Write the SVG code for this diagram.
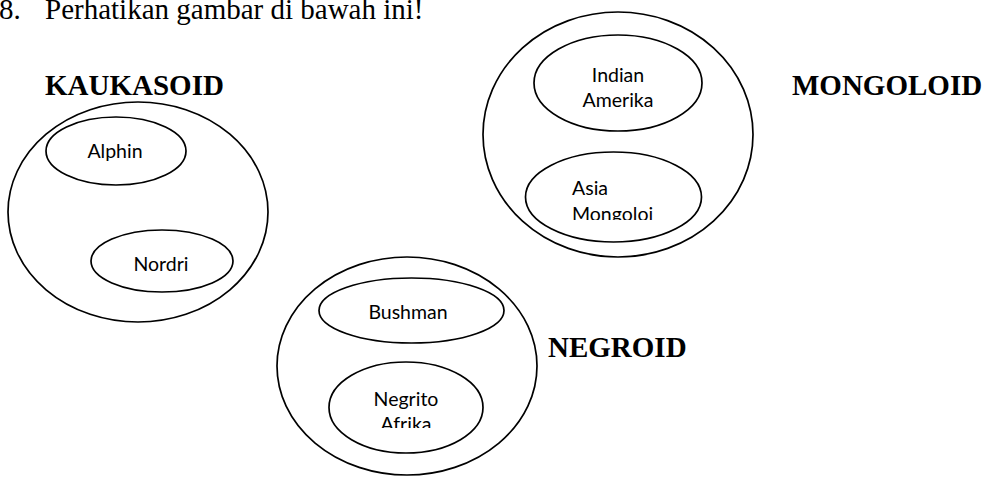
<svg xmlns="http://www.w3.org/2000/svg" width="986" height="477" viewBox="0 0 986 477">
<style>
.e{fill:none;stroke:#000;stroke-width:1.7}
.t{font-family:"Times New Roman","Liberation Serif",serif;font-size:29px;fill:#000}
.h{font-family:"Times New Roman","Liberation Serif",serif;font-size:29px;font-weight:bold;fill:#000}
.l{font-family:Lato,"Open Sans",sans-serif;font-size:19.5px;fill:#000}
</style>
<defs>
<clipPath id="c1"><rect x="0" y="0" width="986" height="220"/></clipPath>
<clipPath id="c2"><rect x="0" y="0" width="986" height="428"/></clipPath>
</defs>
<rect width="986" height="477" fill="#fff"/>
<g id="title">
<text class="t" x="-1" y="19">8.</text>
<text class="t" x="45" y="19">Perhatikan gambar di bawah ini!</text>
</g>
<g id="kaukasoid">
<text class="h" x="45" y="95">KAUKASOID</text>
<ellipse class="e" cx="138" cy="212" rx="130" ry="110"/>
</g>
<g id="alphin">
<ellipse class="e" cx="116" cy="151" rx="70" ry="34"/>
<text class="l" x="115" y="158" text-anchor="middle">Alphin</text>
</g>
<g id="nordri">
<ellipse class="e" cx="162" cy="261" rx="71" ry="31"/>
<text class="l" x="161" y="271" text-anchor="middle">Nordri</text>
</g>
<g id="mongoloid">
<text class="h" x="792" y="95">MONGOLOID</text>
<ellipse class="e" cx="618" cy="134.5" rx="135" ry="122.5"/>
</g>
<g id="indian-amerika">
<ellipse class="e" cx="618" cy="83" rx="84" ry="48"/>
<text class="l" x="618" y="82" text-anchor="middle">Indian</text>
<text class="l" x="618" y="107" text-anchor="middle">Amerika</text>
</g>
<g id="asia-mongoloid">
<ellipse class="e" cx="613.5" cy="197" rx="88" ry="45"/>
<g clip-path="url(#c1)">
<text class="l" x="572" y="195">Asia</text>
<text class="l" x="572" y="221">Mongoloi</text>
</g>
</g>
<g id="negroid">
<text class="h" x="548" y="357">NEGROID</text>
<ellipse class="e" cx="407" cy="366" rx="130" ry="109"/>
</g>
<g id="bushman">
<ellipse class="e" cx="411.5" cy="310.5" rx="92.5" ry="32.5"/>
<text class="l" x="408" y="319" text-anchor="middle">Bushman</text>
</g>
<g id="negrito-afrika">
<ellipse class="e" cx="406" cy="407.5" rx="77" ry="45.5"/>
<g clip-path="url(#c2)">
<text class="l" x="406" y="406" text-anchor="middle">Negrito</text>
<text class="l" x="406" y="431" text-anchor="middle">Afrika</text>
</g>
</g>
<g id="connectors"></g>
</svg>
